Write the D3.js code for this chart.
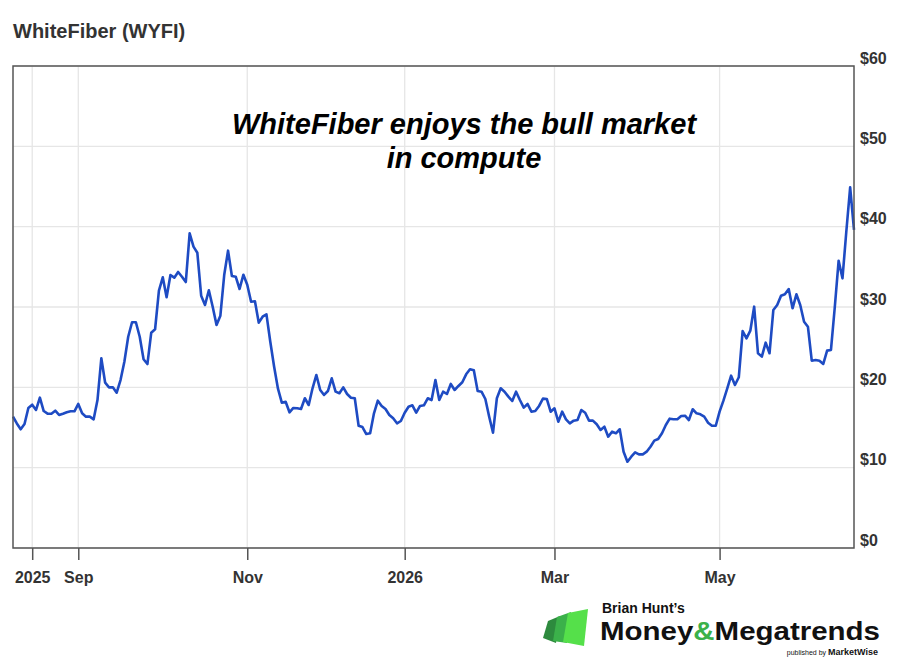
<!DOCTYPE html>
<html>
<head>
<meta charset="utf-8">
<script src="https://cdn.jsdelivr.net/npm/d3@7"></script>
<style>
  body { margin: 0; background: #fff; font-family: "Liberation Sans", Arial, sans-serif; }
  .x-axis path, .y-axis path { display: none; }
</style>
</head>
<body>
<div id="chart-area"></div>
<script>
// daily closes, one per trading day
const prices = [
  16.35, 15.5, 14.78, 15.44, 17.43, 17.84, 17.18, 18.71, 17.05, 16.72,
  16.72, 17.09, 16.56, 16.72, 16.9, 17.02, 17.02, 17.93, 16.77, 16.35,
  16.35, 16.02, 18.42, 23.62, 20.58, 20.0, 20.0, 19.33, 20.91, 23.19,
  26.3, 28.1, 28.1, 26.3, 23.49, 22.9, 26.8, 27.23, 32.03, 33.7,
  31.21, 33.98, 33.65, 34.36, 33.77, 33.11, 39.18, 37.51, 36.76, 31.41,
  30.25, 32.08, 30.04, 27.76, 28.92, 33.98, 37.01, 33.86, 33.77, 32.24,
  34.02, 32.78, 30.66, 30.71, 28.05, 28.79, 29.09, 25.68, 22.57, 19.83,
  18.09, 18.21, 16.89, 17.43, 17.39, 17.3, 18.64, 17.8, 19.88, 21.54,
  19.67, 19.05, 19.54, 21.13, 19.46, 19.26, 20.0, 19.17, 18.71, 18.64,
  15.22, 15.06, 14.19, 14.28, 16.77, 18.34, 17.68, 17.3, 16.56, 16.15,
  15.52, 15.81, 16.84, 17.59, 17.76, 16.84, 17.68, 17.76, 18.64, 18.42,
  20.91, 18.42, 19.46, 19.17, 20.42, 19.67, 20.17, 20.63, 21.62, 22.25,
  22.12, 19.54, 19.46, 18.55, 16.35, 14.35, 18.64, 19.88, 19.46, 18.84,
  18.3, 19.46, 18.42, 17.47, 17.93, 16.97, 17.05, 17.68, 18.59, 18.55,
  16.97, 17.39, 15.72, 16.97, 16.02, 15.52, 15.85, 15.93, 17.18, 16.84,
  15.85, 15.85, 15.4, 14.69, 15.1, 13.86, 14.48, 14.28, 14.78, 11.99,
  10.74, 11.37, 11.91, 11.66, 11.66, 11.99, 12.61, 13.36, 13.57, 14.28,
  15.31, 16.1, 16.02, 16.02, 16.43, 16.47, 15.93, 17.27, 16.77, 16.64,
  16.35, 15.6, 15.22, 15.22, 16.97, 18.34, 19.88, 21.45, 20.29, 21.25,
  27.01, 26.1, 27.05, 30.04, 24.24, 23.82, 25.56, 24.24, 29.63, 30.25,
  31.41, 31.58, 32.24, 29.84, 31.58, 30.25, 28.17, 27.55, 23.32, 23.4,
  23.32, 22.91, 24.57, 24.65, 30.0, 35.76, 33.57, 39.4, 44.9, 39.59
];

const xTickIndex = [5, 17, 61, 102, 141, 184];
const xTickLabels = ["2025", "Sep", "Nov", "2026", "Mar", "May"];
const yTicks = [0, 10, 20, 30, 40, 50, 60];

const titleText = "WhiteFiber (WYFI)";
const noteLines = ["WhiteFiber enjoys the bull market", "in compute"];

const W = 900, H = 664;
const box = { left: 13, top: 66, right: 854, bottom: 548 };

const svg = d3.select("#chart-area")
    .append("svg")
    .attr("width", W)
    .attr("height", H)
    .style("display", "block");

const x = d3.scaleLinear().domain([0, prices.length - 1]).range([box.left, box.right]);
const y = d3.scaleLinear().domain([0, 60]).range([box.bottom, box.top]);

// title
svg.append("text")
    .attr("x", 13)
    .attr("y", 38)
    .attr("font-size", "20px")
    .attr("font-weight", "bold")
    .attr("fill", "#333")
    .text(titleText);

// grid
svg.append("g")
    .attr("class", "grid-y")
    .selectAll("line")
    .data(yTicks)
    .enter().append("line")
    .attr("x1", box.left)
    .attr("x2", box.right)
    .attr("y1", d => y(d))
    .attr("y2", d => y(d))
    .attr("stroke", "#e6e6e6")
    .attr("stroke-width", 1.3);

svg.append("g")
    .attr("class", "grid-x")
    .selectAll("line")
    .data(xTickIndex)
    .enter().append("line")
    .attr("x1", d => x(d))
    .attr("x2", d => x(d))
    .attr("y1", box.top)
    .attr("y2", box.bottom)
    .attr("stroke", "#e6e6e6")
    .attr("stroke-width", 1.3);

// annotation
const note = svg.append("text")
    .attr("text-anchor", "middle")
    .attr("font-size", "29px")
    .attr("font-weight", "bold")
    .attr("font-style", "italic")
    .attr("fill", "#000");

note.selectAll("tspan")
    .data(noteLines)
    .enter().append("tspan")
    .attr("x", 464)
    .attr("y", (d, i) => 134 + i * 34)
    .text(d => d);

// price line
const line = d3.line()
    .x((d, i) => x(i))
    .y(d => y(d));

svg.append("path")
    .datum(prices)
    .attr("fill", "none")
    .attr("stroke", "#1e4bc3")
    .attr("stroke-width", 2.6)
    .attr("stroke-linejoin", "round")
    .attr("d", line);

// frame
svg.append("rect")
    .attr("x", box.left)
    .attr("y", box.top)
    .attr("width", box.right - box.left)
    .attr("height", box.bottom - box.top)
    .attr("fill", "none")
    .attr("stroke", "#555")
    .attr("stroke-width", 1.5);

// axes
const xAxis = svg.append("g")
    .attr("class", "x-axis")
    .attr("transform", `translate(0,${box.bottom})`)
    .call(d3.axisBottom(x)
        .tickValues(xTickIndex)
        .tickFormat((d, i) => xTickLabels[i])
        .tickSize(12)
        .tickPadding(12));

xAxis.selectAll("line").attr("stroke", "#555").attr("stroke-width", 1.5);
xAxis.selectAll("text")
    .attr("font-family", "'Liberation Sans', Arial, sans-serif")
    .attr("font-size", "16px")
    .attr("font-weight", "bold")
    .attr("fill", "#333");

const yAxis = svg.append("g")
    .attr("class", "y-axis")
    .attr("transform", `translate(${box.right},0)`)
    .call(d3.axisRight(y)
        .tickValues(yTicks)
        .tickFormat(d => `$${d}`)
        .tickSize(0)
        .tickPadding(6));

yAxis.selectAll("text")
    .attr("dy", "-3px")
    .attr("font-family", "'Liberation Sans', Arial, sans-serif")
    .attr("font-size", "16px")
    .attr("font-weight", "bold")
    .attr("fill", "#333");

// logo
const logo = svg.append("g").attr("class", "logo");

const logoBars = [
    { pts: [[548, 621], [560, 616], [556, 643], [543, 638]], fill: "#2d8a3e" },
    { pts: [[557, 617], [571, 612], [567, 643], [553, 641]], fill: "#3bb14a" },
    { pts: [[568, 613], [588, 609], [584, 646], [563, 642]], fill: "#55e04a" }
];

logo.selectAll("polygon")
    .data(logoBars)
    .enter().append("polygon")
    .attr("points", d => d.pts.map(p => p.join(",")).join(" "))
    .attr("fill", d => d.fill);

logo.append("text")
    .attr("x", 602)
    .attr("y", 613)
    .attr("font-size", "14px")
    .attr("font-weight", "bold")
    .attr("fill", "#111")
    .text("Brian Hunt\u2019s");

const brand = logo.append("text")
    .attr("x", 600)
    .attr("y", 640)
    .attr("font-size", "26.5px")
    .attr("font-weight", "900")
    .attr("fill", "#111")
    .attr("textLength", 280)
    .attr("lengthAdjust", "spacingAndGlyphs");

brand.append("tspan").text("Money");
brand.append("tspan").attr("fill", "#3bb14a").text("&");
brand.append("tspan").text("Megatrends");

const pub = logo.append("text")
    .attr("x", 878)
    .attr("y", 655)
    .attr("text-anchor", "end")
    .attr("fill", "#111");

pub.append("tspan").attr("font-size", "7px").text("published by ");
pub.append("tspan").attr("font-size", "9px").attr("font-weight", "bold").text("MarketWise");
</script>
</body>
</html>
